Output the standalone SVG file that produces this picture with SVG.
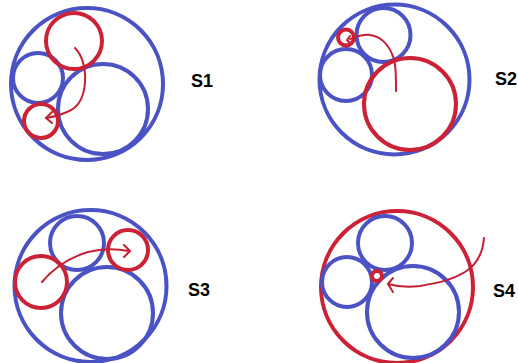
<svg xmlns="http://www.w3.org/2000/svg" width="518" height="363" viewBox="0 0 518 363">
  <defs>
    <style>
      .blue { fill: none; stroke: #4a52c4; stroke-width: 4; }
      .red { fill: none; stroke: #cc2236; stroke-width: 4; }
      .arrow { fill: none; stroke: #c41f33; stroke-width: 2; stroke-linecap: round; stroke-linejoin: round; }
      .lbl { font-family: "Liberation Sans", Arial, sans-serif; font-weight: bold; font-size: 18px; fill: #000; }
    </style>
  </defs>
  <rect width="518" height="363" fill="#fff"/>

  <!-- S1 -->
  <g id="s1">
    <circle class="blue" cx="87" cy="84" r="76"/>
    <circle class="blue" cx="38" cy="78" r="25"/>
    <circle class="blue" cx="103" cy="109" r="45"/>
    <circle class="red" cx="74" cy="41" r="28"/>
    <circle class="red" cx="41" cy="121" r="17"/>
    <text class="lbl" x="191" y="87">S1</text>
  </g>

  <!-- S2 -->
  <g id="s2">
    <circle class="blue" cx="394.5" cy="79.5" r="75"/>
    <circle class="blue" cx="383.5" cy="35" r="27"/>
    <circle class="blue" cx="346" cy="75" r="26"/>
    <circle class="red" cx="410" cy="104" r="46"/>
    <circle class="red" cx="346" cy="37.5" r="8"/>
    <text class="lbl" x="495" y="85">S2</text>
  </g>

  <!-- S3 -->
  <g id="s3">
    <circle class="blue" cx="90.5" cy="286" r="76"/>
    <circle class="blue" cx="77" cy="243" r="27"/>
    <circle class="blue" cx="107" cy="313" r="46"/>
    <circle class="red" cx="41" cy="282" r="26"/>
    <circle class="red" cx="128" cy="250" r="20"/>
    <text class="lbl" x="188" y="296">S3</text>
  </g>

  <!-- S4 -->
  <g id="s4">
    <circle class="red" cx="397" cy="287" r="76"/>
    <circle class="blue" cx="385" cy="243" r="27"/>
    <circle class="blue" cx="347" cy="282" r="25"/>
    <circle class="blue" cx="413" cy="312" r="46"/>
    <circle class="red" cx="377" cy="276" r="5"/>
    <text class="lbl" x="493" y="297">S4</text>
  </g>

  <!-- connectors -->
  <g id="connectors">
    <path class="arrow" d="M75,48 C82,55 86,68 85,82 C84,98 78,108 67,112 C60,115 54,117 46,118"/>
    <path class="arrow" d="M52,112 L46,118 L52,123"/>

    <path class="arrow" d="M396,91 C396,75 396,62 392,54 C388,44 380,36 370,35 C362,34 356,37 350,39"/>
    <path class="arrow" d="M350,36 L347,40 L350,43"/>

    <path class="arrow" d="M42,282 C52,270 68,258 88,252 C104,248 118,249 129,251"/>
    <path class="arrow" d="M124,245 L130,251 L124,257"/>

    <path class="arrow" d="M484,238 C483,250 478,264 465,272 C452,280 438,283 420,286 C405,288 395,286 388,284"/>
    <path class="arrow" d="M393,278 L388,284 L393,292"/>
  </g>
</svg>
